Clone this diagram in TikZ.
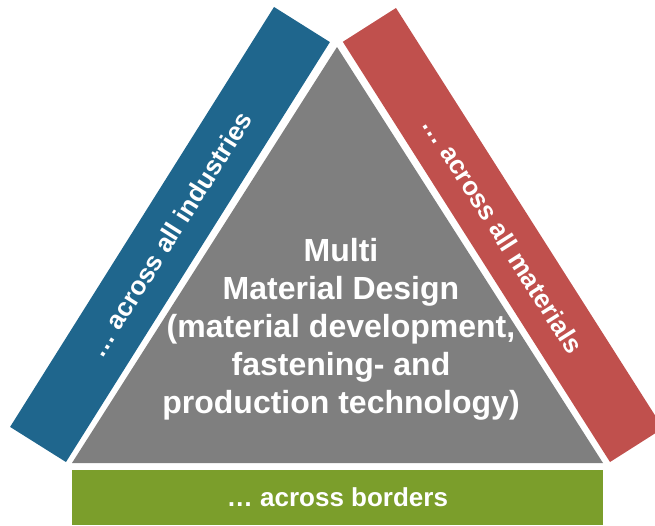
\documentclass[tikz,border=0pt]{standalone}
\usepackage{fontspec}
\setsansfont{Liberation Sans}
\usepackage{xcolor}
\usetikzlibrary{positioning}
\definecolor{bandblue}{HTML}{1F668D}
\definecolor{bandred}{HTML}{C0504D}
\definecolor{bandgreen}{HTML}{7B9E2B}
\definecolor{coregrey}{HTML}{7F7F7F}

\begin{document}
\begin{tikzpicture}[x=1pt, y=-1pt, font=\sffamily\bfseries, text=white]
    \tikzstyle{band}=[rectangle, inner sep=0pt, font=\sffamily\bfseries\fontsize{26}{31}\selectfont]
    \tikzstyle{core}=[align=center, inner sep=0pt, font=\sffamily\bfseries\fontsize{32}{38}\selectfont]

    \clip (0,0) rectangle (655,525);

    \coordinate (apex) at (337,47);
    \coordinate (bl) at (72,463);
    \coordinate (br) at (603,463);
    \fill[coregrey] (apex) -- (bl) -- (br) -- cycle;

    \node[band, fill=bandblue, rotate=57.85, minimum width=496, minimum height=66] (industries) at (170,234.5) {\dots\ across all industries};
    \node[band, fill=bandred, rotate=-57.55, minimum width=498, minimum height=63] (materials) at (503,235) {\dots\ across all materials};
    \node[band, fill=bandgreen, minimum width=531, minimum height=55] (borders) at (337.5,497.5) {\dots\ across borders};

    \node[core] (mmd) at (341,329) {Multi\\Material Design\\(material development,\\fastening- and\\production technology)};
\end{tikzpicture}
\end{document}
